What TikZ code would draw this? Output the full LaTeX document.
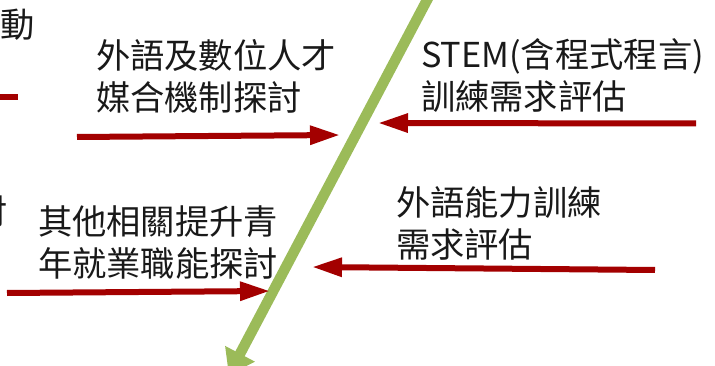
\documentclass[tikz,border=0pt]{standalone}
\usepackage{fontspec}
\setmainfont{Noto Sans CJK TC}
\usetikzlibrary{arrows.meta}
\definecolor{spinegreen}{RGB}{155,187,89}
\definecolor{bonered}{RGB}{163,0,0}
\tikzset{
  lbl/.style={anchor=base west, inner sep=0pt, outer sep=0pt, text width=330pt, align=left,
    font=\fontsize{34.3}{42}\selectfont, text=black!90},
  bone/.style={draw=bonered, line width=6pt, -{Triangle[length=30pt,width=18pt]}},
  bonestub/.style={draw=bonered, line width=6pt},
  spine/.style={draw=spinegreen, line width=10.5pt, -{Triangle[length=24pt,width=32pt]}}
}
\begin{document}
\begin{tikzpicture}[x=1pt,y=-1pt]
\useasboundingbox (0,0) rectangle (715,366);
\clip (0,0) rectangle (715,366);
% spine
\coordinate (stop) at (437.6,-20);
\coordinate (stip) at (228.8,375);
\draw[spine] (stop) -- (stip);
% labels
\node[lbl] (t1) at (96,68.5) {外語及數位人才\\媒合機制探討};
\node[lbl] (t2) at (421,68) {STEM(含程式程言)\\訓練需求評估};
\node[lbl] (t3) at (38,235) {其他相關提升青\\年就業職能探討};
\node[lbl] (t4) at (396,216) {外語能力訓練\\需求評估};
\node[lbl, text width=40pt] (p1) at (0,38) {動};
\node[lbl, text width=40pt] (p2) at (-26,225) {討};
% bones
\coordinate (a1s) at (77,137);   \coordinate (a1e) at (340,135);
\coordinate (a2s) at (696,123.5); \coordinate (a2e) at (378,123);
\coordinate (a3s) at (7,293);    \coordinate (a3e) at (270,291);
\coordinate (a4s) at (655,270);  \coordinate (a4e) at (312,267);
\coordinate (a5s) at (-20,97);   \coordinate (a5e) at (18,97);
\draw[bone] (a1s) -- (a1e);
\draw[bone] (a2s) -- (a2e);
\draw[bone] (a3s) -- (a3e);
\draw[bone] (a4s) -- (a4e);
\draw[bonestub] (a5s) -- (a5e);
\end{tikzpicture}
\end{document}
